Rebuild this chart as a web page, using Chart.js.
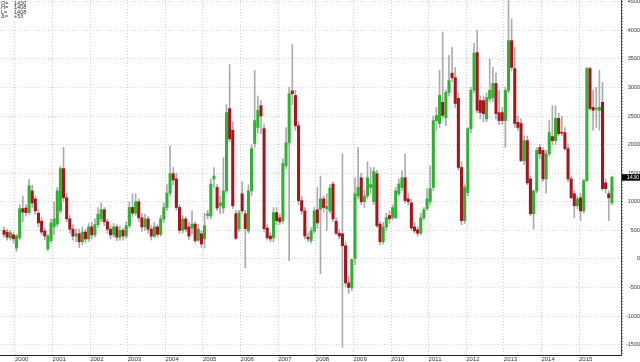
<!DOCTYPE html>
<html>
<head>
<meta charset="utf-8">
<script src="https://cdn.jsdelivr.net/npm/chart.js@4.4.0/dist/chart.umd.min.js"></script>
<style>
  html, body { margin: 0; padding: 0; background: #fff; }
  #wrap { width: 640px; height: 362px; position: relative; }
</style>
</head>
<body>
<div id="wrap"><canvas id="chart"></canvas></div>
<script>
// MONTHLY CANDLES, SEP 1999 .. NOV 2015
const firstMonth = 9; // September 1999
const years = ['2000','2001','2002','2003','2004','2005','2006','2007','2008','2009','2010','2011','2012','2013','2014','2015'];

const opens = [
  500,470,370,420,
  190,370,880,890,810,1190,1050,800,660,490,175,320,
  560,610,842,1580,1070,700,520,400,440,300,470,350,
  560,420,600,700,860,650,520,420,560,380,500,400,
  580,900,800,1000,720,560,700,520,400,560,430,700,
  900,1150,1490,1400,900,500,700,560,540,610,330,440,
  350,760,750,1400,1250,930,890,1190,2630,2250,790,530,
  1140,790,490,1190,2020,2300,2680,2280,540,400,370,810,
  720,670,1630,2030,2940,2860,2330,1020,840,380,320,490,
  860,870,1050,880,840,1310,660,450,440,230,-420,-500,
  0,1100,1420,1000,1100,1250,1000,1490,610,300,560,760,
  720,720,1140,1250,1420,1050,980,560,510,450,720,880,
  1000,1250,2420,2370,2740,2470,2910,3250,3170,2810,1600,670,
  1160,2280,2950,3610,2770,2770,2450,2800,2820,3070,2560,2560,
  2420,2950,3820,3330,2390,2370,1720,2070,1400,790,1190,1950,
  1900,1400,1840,2140,2070,2460,2210,2210,1930,1400,1140,930,
  1070,840,1370,3330,2650,2620,2600,2740,1330,1140,980
];
const highs = [
  560,520,500,460,
  430,950,1100,950,1390,1290,1100,860,720,540,430,700,
  1000,1250,1620,1950,1150,760,600,520,520,560,520,620,
  640,700,900,980,900,700,580,620,600,580,540,650,
  1000,1140,1140,1050,800,780,740,580,640,600,760,980,
  1300,1980,1600,1500,950,760,740,640,840,650,600,500,
  800,850,1400,1600,1300,1100,1770,2700,3400,2400,850,850,
  1350,850,1300,2000,3300,2850,2770,2350,600,450,900,900,
  780,1750,2300,3000,3750,2950,2400,1100,900,450,550,900,
  1250,1450,1100,1140,1300,1350,720,520,1840,300,-300,0,
  1420,1950,1500,1200,1700,1600,1600,1550,650,640,800,840,
  950,1250,1400,1540,1840,1150,1050,640,560,800,900,1230,
  1630,2500,2650,3300,3970,2950,3560,3700,3350,2900,1700,1300,
  2300,3000,3770,4000,2850,2850,2900,3500,3350,3250,2950,2650,
  3000,4520,4200,3700,2500,2450,2150,2150,1450,1200,1950,2000,
  1950,1900,2420,2680,2680,2550,2500,2300,2000,1450,1200,1100,
  1150,1400,3350,3350,2950,3000,3300,3090,1400,1190,1450
];
const lows = [
  380,330,330,280,
  130,330,650,750,780,900,780,560,420,330,140,280,
  420,560,800,1000,650,450,330,300,200,250,280,300,
  350,380,550,650,580,450,350,380,320,330,330,360,
  540,740,760,650,480,500,450,330,370,380,400,640,
  850,1100,1300,850,450,450,480,340,440,280,300,200,
  190,700,700,1250,850,790,800,1150,2050,880,340,480,
  800,-160,450,1100,1950,2200,2190,480,330,300,300,600,
  600,620,1580,-30,2700,2250,950,780,350,300,280,450,
  530,-260,820,500,800,650,420,350,-1550,-480,-600,-560,
  -100,1050,950,900,1050,1150,950,550,250,260,500,620,
  680,700,1100,1200,980,950,500,450,400,420,680,850,
  950,1200,2250,2300,2450,2330,2850,3100,2650,1550,600,620,
  1100,2200,2900,2550,2450,2400,2400,2750,2750,2450,2350,2350,
  1950,2900,3300,2300,2250,1700,1650,1300,750,520,1150,1750,
  1350,1150,1800,2000,2000,2150,2150,1900,1350,1050,720,880,
  670,800,1350,2600,2250,2300,2250,1200,1150,670,950
];
const closes = [
  430,380,460,350,
  400,880,820,810,1280,980,840,630,470,400,400,630,
  700,1190,1580,1070,700,520,400,440,300,470,350,560,
  420,600,780,860,650,520,420,560,380,500,400,580,
  900,800,1000,720,560,700,520,400,560,430,700,900,
  1150,1490,1380,900,500,700,520,400,610,320,520,260,
  580,790,1310,1450,890,980,1190,2560,2100,930,360,810,
  840,530,1190,1930,2420,2600,2500,530,370,350,810,670,
  650,1670,2030,2890,2890,2330,1020,840,400,350,490,840,
  630,1050,900,920,1240,700,450,400,230,-420,-500,0,
  1140,1250,1000,1100,1420,1300,1530,580,300,560,720,700,
  900,1190,1310,1420,1020,1000,540,490,450,720,860,1050,
  1230,2420,2510,2860,2510,2910,3120,3170,2720,1600,670,1250,
  2280,2950,3600,2600,2560,2540,2820,2950,3070,2540,2420,2420,
  2950,3820,3350,2370,2300,1720,2070,1330,790,1190,1900,1840,
  1400,1840,2210,2070,2460,2190,2200,1930,1400,1070,930,1050,
  840,1370,3330,2630,2600,2630,2650,1230,1230,1070,1430
];

// texto do canto superior esquerdo
const infoLabels = ['O=', 'H=', 'L=', 'Δ='];
const infoValues = ['1430', '1408', '1408', '+53'];

const GREEN = '#2fb22f';
const RED = '#a8141c';
const WICK = '#ababab';
const FONT = '"Liberation Sans", Arial, sans-serif';

// MONTAGEM DOS DADOS
let wickData = [];
let bodyData = [];
let bodyColors = [];
for (let i = 0; i < closes.length; i++) {
    wickData.push({ x: i, y: [lows[i], highs[i]] });
    bodyData.push({ x: i, y: [opens[i], closes[i]] });
    bodyColors.push(closes[i] >= opens[i] ? GREEN : RED);
}
const firstJan = 13 - firstMonth; // index of Jan 2000

const lastPrice = {
    id: 'lastPrice',
    afterDraw(chart) {
        const ctx = chart.ctx;
        const ys = chart.scales.y;
        const last = closes[closes.length - 1];
        const py = ys.getPixelForValue(last);
        ctx.save();
        ctx.fillStyle = '#000';
        ctx.fillRect(ys.left + 1, py - 3, ys.right - ys.left - 1, 6.5);
        ctx.fillStyle = '#fff';
        ctx.font = '5.5px ' + FONT;
        ctx.textAlign = 'right';
        ctx.textBaseline = 'middle';
        ctx.fillText(String(last), ys.right - 1, py + 0.3);
        // info no topo
        ctx.fillStyle = '#333';
        ctx.font = '5.5px ' + FONT;
        ctx.textAlign = 'left';
        for (let k = 0; k < infoLabels.length; k++) {
            ctx.fillText(infoLabels[k], 1, 3 + k * 4.6);
            ctx.fillText(infoValues[k], 14, 3 + k * 4.6);
        }
        ctx.restore();
    }
};

const ctx = document.getElementById('chart').getContext('2d');
new Chart(ctx, {
    type: 'bar',
    data: {
        datasets: [
            { data: wickData, backgroundColor: WICK, barThickness: 1, grouped: false, borderWidth: 0, order: 2 },
            { data: bodyData, backgroundColor: bodyColors, barThickness: 2.4, grouped: false, borderWidth: 0, minBarLength: 1, order: 1 }
        ]
    },
    options: {
        responsive: true,
        maintainAspectRatio: false,
        animation: false,
        layout: { padding: 0 },
        plugins: { legend: { display: false }, tooltip: { enabled: false } },
        scales: {
            x: {
                type: 'linear',
                min: -1.28,
                max: 196.9,
                offset: false,
                afterBuildTicks: s => { s.ticks = years.map((y, k) => ({ value: firstJan - 0.5 + 12 * k })); },
                afterFit: s => { s.height = 7; s.paddingLeft = 0; s.paddingRight = 0; },
                ticks: {
                    callback: (v, i) => years[i],
                    align: 'start',
                    autoSkip: false,
                    maxRotation: 0,
                    padding: 1,
                    color: '#333',
                    font: { size: 6, family: FONT }
                },
                grid: { color: '#d2d2d2', drawTicks: false, offset: false },
                border: { color: '#222', dash: [1, 2] }
            },
            y: {
                position: 'right',
                min: -1681,
                max: 4530,
                afterFit: s => { s.width = 19; s.paddingTop = 0; s.paddingBottom = 0; },
                ticks: {
                    stepSize: 50,
                    maxTicksLimit: 300,
                    includeBounds: false,
                    autoSkip: false,
                    crossAlign: 'far',
                    padding: 3,
                    color: '#333',
                    font: { size: 5.5, family: FONT },
                    callback: v => (v % 500 === 0 ? String(v) : '')
                },
                grid: {
                    color: c => (c.tick && c.tick.value % 500 === 0 ? '#d2d2d2' : 'rgba(0,0,0,0)'),
                    tickColor: '#888',
                    tickLength: 2
                },
                border: { color: '#444', dash: [1, 2] }
            }
        }
    },
    plugins: [lastPrice]
});
</script>
</body>
</html>
